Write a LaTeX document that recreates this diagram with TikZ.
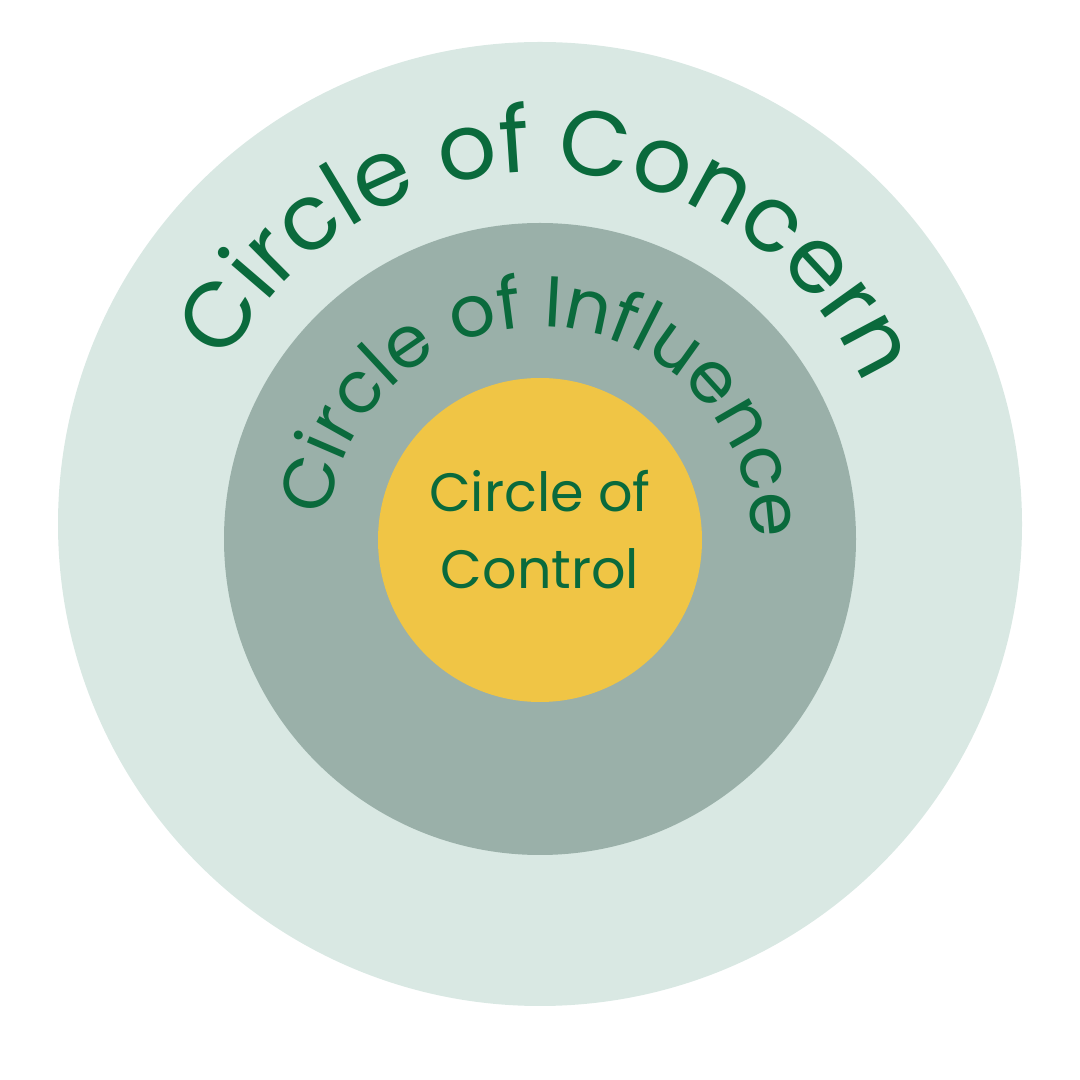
\documentclass[tikz,border=0pt]{standalone}
\usepackage{fontspec}
\setmainfont{Poppins}
\usetikzlibrary{decorations.text}
\definecolor{outerc}{HTML}{D9E8E3}
\definecolor{midc}{HTML}{9AB0A9}
\definecolor{innerc}{HTML}{F0C545}
\definecolor{tg}{HTML}{0A6A3C}
\begin{document}
\begin{tikzpicture}[x=1pt,y=1pt]
\useasboundingbox (0,0) rectangle (1080,1080);
\coordinate (co) at (540,556);
\coordinate (cm) at (540,541);
\coordinate (ci) at (540,540);
\fill[outerc] (co) circle[radius=482];
\fill[midc] (cm) circle[radius=316];
\fill[innerc] (ci) circle[radius=162];
\path[decorate,decoration={text along path,text align=center,
  text={|\fontsize{92}{92}\selectfont\color{tg}|Circle of Concern}}]
  (co) ++(177:352) arc[start angle=177,end angle=-1,radius=352];
\path[decorate,decoration={text along path,text align=center,
  text={|\fontsize{72}{72}\selectfont\color{tg}|Circle of Influence}}]
  (cm) ++(177:212) arc[start angle=177,end angle=-3,radius=212];
\node[align=center,text=tg,font=\fontsize{54}{77}\selectfont] (ctl) at (540,550) {Circle of\\Control};
\end{tikzpicture}
\end{document}
